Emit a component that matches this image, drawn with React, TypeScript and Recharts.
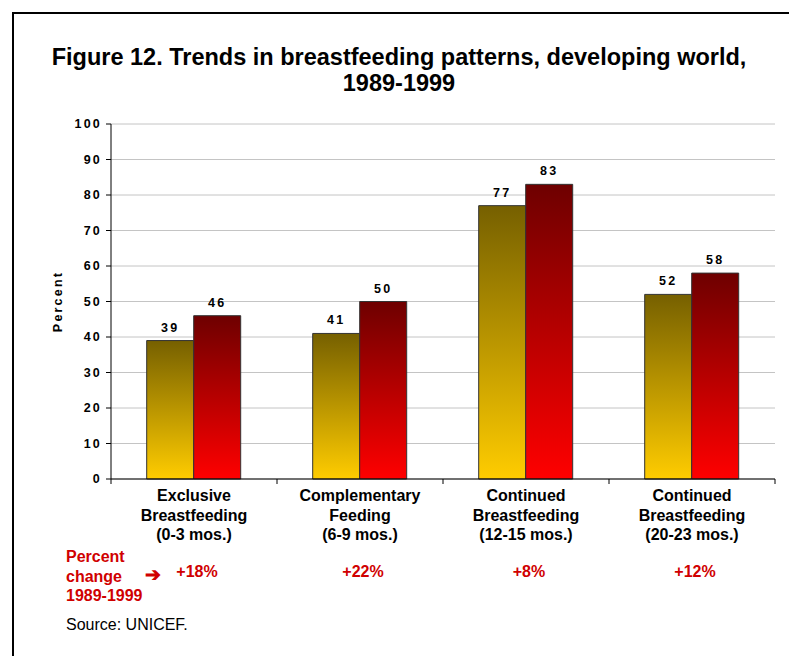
import React from "react";
import {
  BarChart,
  Bar,
  XAxis,
  YAxis,
  CartesianGrid,
  LabelList,
} from "recharts";

// categories (split over three lines, as on the picture)
const categories = [
  ["Exclusive", "Breastfeeding", "(0-3 mos.)"],
  ["Complementary", "Feeding", "(6-9 mos.)"],
  ["Continued", "Breastfeeding", "(12-15 mos.)"],
  ["Continued", "Breastfeeding", "(20-23 mos.)"],
];
const values1989 = [39, 41, 77, 52];
const values1999 = [46, 50, 83, 58];
const percentChange = ["+18%", "+22%", "+8%", "+12%"];
const yTicks = [0, 10, 20, 30, 40, 50, 60, 70, 80, 90, 100];

const data = categories.map((c, i) => ({
  name: c.join(" "),
  y1989: values1989[i],
  y1999: values1999[i],
}));

const W = 789;
const H = 656;
const PLOT_LEFT = 111;
const PLOT_BOTTOM = 177;
const M = { top: 124, left: 0, right: 14, bottom: 0 };
const BAND = (W - PLOT_LEFT - M.right) / categories.length;
const FONT = "Arial, 'Liberation Sans', Helvetica, sans-serif";
const RED = "#d00000";

const smallBold = {
  fill: "#000",
  fontSize: 12.5,
  fontWeight: "bold",
  fontFamily: FONT,
  letterSpacing: 2.2,
};

function CategoryTick(props: any) {
  const { x, y, payload } = props;
  const i = payload.index ?? 0;
  const lines = categories[i] || [];
  return (
    <g>
      <line x1={x - BAND / 2} y1={y - 8} x2={x - BAND / 2} y2={y - 3} stroke="#000" />
      {i === categories.length - 1 && (
        <line x1={x + BAND / 2} y1={y - 8} x2={x + BAND / 2} y2={y - 3} stroke="#000" />
      )}
      {lines.map((l, k) => (
        <text
          key={k}
          x={x}
          y={y + 14 + k * 19.5}
          textAnchor="middle"
          fontFamily={FONT}
          fontWeight="bold"
          fontSize={16}
          fill="#000"
        >
          {l}
        </text>
      ))}
      <text
        x={x + 3}
        y={y + 90}
        textAnchor="middle"
        fontFamily={FONT}
        fontWeight="bold"
        fontSize={16}
        fill={RED}
      >
        {percentChange[i]}
      </text>
    </g>
  );
}

export default function App() {
  return (
    <div
      style={{
        position: "absolute",
        left: 0,
        top: 0,
        width: W,
        height: H,
        background: "#fff",
        overflow: "hidden",
        fontFamily: FONT,
      }}
    >
      <div
        style={{
          position: "absolute",
          left: 12,
          top: 12,
          width: 820,
          height: 700,
          border: "2px solid #000",
          boxSizing: "border-box",
        }}
      />
      <div
        style={{
          position: "absolute",
          left: 0,
          width: 798,
          top: 44,
          textAlign: "center",
          fontWeight: "bold",
          fontSize: 23.5,
          lineHeight: "26px",
          color: "#000",
        }}
      >
        Figure 12. Trends in breastfeeding patterns, developing world,
        <br />
        1989-1999
      </div>
      <BarChart
        width={W}
        height={H}
        data={data}
        margin={M}
        barCategoryGap="21.5%"
        barGap={0}
        style={{ position: "absolute", left: 0, top: 0 }}
      >
        <defs>
          <linearGradient id="g1989" x1="0" y1="0" x2="0" y2="1">
            <stop offset="0%" stopColor="#766000" />
            <stop offset="100%" stopColor="#ffcc00" />
          </linearGradient>
          <linearGradient id="g1999" x1="0" y1="0" x2="0" y2="1">
            <stop offset="0%" stopColor="#6e0000" />
            <stop offset="100%" stopColor="#ff0000" />
          </linearGradient>
        </defs>
        <CartesianGrid vertical={false} stroke="#c4c4c4" />
        <XAxis
          dataKey="name"
          axisLine={{ stroke: "#000" }}
          tickLine={false}
          tick={<CategoryTick />}
          interval={0}
          height={PLOT_BOTTOM}
        />
        <YAxis
          domain={[0, 100]}
          ticks={yTicks}
          interval={0}
          axisLine={{ stroke: "#000" }}
          tickLine={{ stroke: "#000" }}
          tickSize={5}
          tickMargin={4}
          tick={smallBold}
          label={{
            value: "Percent",
            angle: -90,
            position: "insideLeft",
            dx: 53,
            style: { ...smallBold, textAnchor: "middle" },
          }}
          width={PLOT_LEFT}
        />
        <YAxis
          yAxisId="right"
          orientation="right"
          domain={[0, 100]}
          axisLine={{ stroke: "#999" }}
          tick={false}
          tickLine={false}
          width={0}
        />
        <Bar
          dataKey="y1989"
          fill="url(#g1989)"
          stroke="#333"
          strokeWidth={1}
          isAnimationActive={false}
        >
          <LabelList dataKey="y1989" position="top" offset={9} style={smallBold} />
        </Bar>
        <Bar
          dataKey="y1999"
          fill="url(#g1999)"
          stroke="#333"
          strokeWidth={1}
          isAnimationActive={false}
        >
          <LabelList dataKey="y1999" position="top" offset={9} style={smallBold} />
        </Bar>
      </BarChart>
      <div
        style={{
          position: "absolute",
          left: 66,
          top: 547,
          color: RED,
          fontWeight: "bold",
          fontSize: 16,
          lineHeight: "19.5px",
        }}
      >
        Percent
        <br />
        change
        <br />
        1989-1999
      </div>
      <div
        style={{
          position: "absolute",
          left: 145,
          top: 563,
          color: RED,
          fontWeight: "bold",
          fontSize: 19,
        }}
      >
        ➔
      </div>
      <div
        style={{
          position: "absolute",
          left: 66,
          top: 616,
          color: "#000",
          fontSize: 16,
        }}
      >
        Source: UNICEF.
      </div>
    </div>
  );
}
